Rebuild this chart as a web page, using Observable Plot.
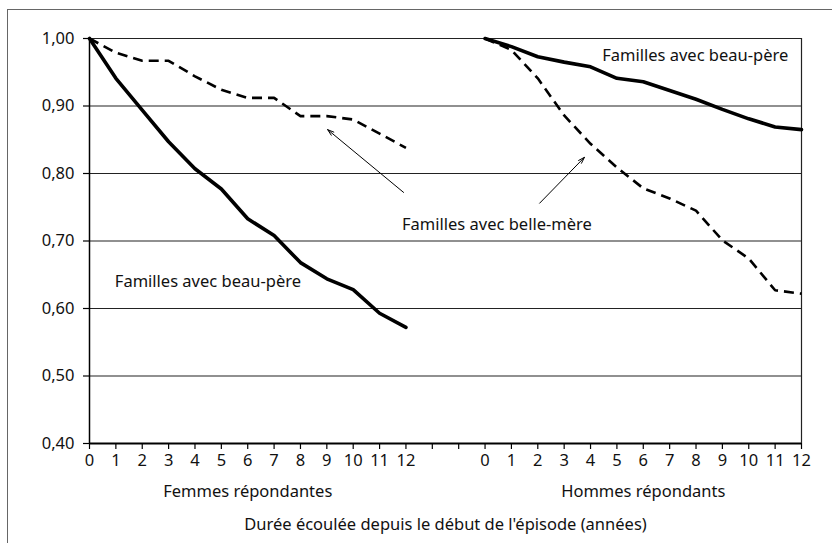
<!DOCTYPE html>
<html>
<head>
<meta charset="utf-8">
<script src="https://cdn.jsdelivr.net/npm/d3@7"></script>
<script src="https://cdn.jsdelivr.net/npm/@observablehq/plot@0.6"></script>
<style>
  html, body { margin: 0; padding: 0; background: #fff; overflow: hidden; }
  #wrap { position: relative; width: 832px; height: 543px; }
  #frame { position: absolute; left: 7px; top: 9px; width: 900px; height: 900px; border: 1.5px solid #666; box-sizing: border-box; pointer-events: none; }
  svg { font-family: "Noto Sans", sans-serif; font-variant-numeric: oldstyle-nums; }
</style>
</head>
<body>
<div id="wrap"><div id="frame"></div></div>
<script>
// Years since start of episode (per panel)
const years = [0,1,2,3,4,5,6,7,8,9,10,11,12];
// Panel offsets on the shared x axis (two empty slots between panels)
const panelOffset = {femmes: 0, hommes: 15};
const panelNames = {femmes: "Femmes répondantes", hommes: "Hommes répondants"};

// Survival proportions
const femmesBeauPere  = [1.000,0.941,0.894,0.847,0.807,0.777,0.733,0.708,0.668,0.644,0.628,0.593,0.572];
const femmesBelleMere = [1.000,0.979,0.967,0.967,0.944,0.924,0.912,0.912,0.885,0.885,0.880,0.859,0.838];
const hommesBeauPere  = [1.000,0.988,0.973,0.965,0.958,0.941,0.936,0.923,0.910,0.895,0.881,0.869,0.865];
const hommesBelleMere = [1.000,0.983,0.941,0.886,0.844,0.809,0.778,0.763,0.745,0.701,0.674,0.627,0.622];

const yTicks = [0.4,0.5,0.6,0.7,0.8,0.9,1.0];
const xTickLabels = [...years.map(String), "", "", ...years.map(String)];

function rows(panel, family, values) {
  return years.map((yr, i) => ({panel, family, pos: panelOffset[panel] + yr, value: values[i]}));
}
const series = [
  {key: "fBP", data: rows("femmes", "Familles avec beau-père", femmesBeauPere), dashed: false},
  {key: "fBM", data: rows("femmes", "Familles avec belle-mère", femmesBelleMere), dashed: true},
  {key: "hBP", data: rows("hommes", "Familles avec beau-père", hommesBeauPere), dashed: false},
  {key: "hBM", data: rows("hommes", "Familles avec belle-mère", hommesBelleMere), dashed: true}
];

// Annotations (in data coordinates)
const labelsMiddle = [
  {text: "Familles avec beau-père", pos: 4.49, value: 0.639},
  {text: "Familles avec belle-mère", pos: 15.45, value: 0.724}
];
const labelsEnd = [
  {text: "Familles avec beau-père", pos: 26.5, value: 0.974}
];
const arrows = [
  {x1: 11.91, y1: 0.772, x2: 9.03, y2: 0.865},
  {x1: 17.07, y1: 0.756, x2: 18.77, y2: 0.824}
];
const panelLabels = [
  {text: panelNames.femmes, pos: panelOffset.femmes + 6},
  {text: panelNames.hommes, pos: panelOffset.hommes + 6}
];
const axisTitle = "Durée écoulée depuis le début de l'épisode (années)";

const fmt = d => d.toFixed(2).replace(".", ",");
const FS = 16.5;

const plot = Plot.plot({
  width: 832,
  height: 543,
  marginLeft: 89,
  marginRight: 31,
  marginTop: 38,
  marginBottom: 100,
  style: {fontSize: FS + "px", fontFamily: "'Noto Sans', sans-serif", color: "#111", background: "transparent", overflow: "visible"},
  x: {domain: [0, 27]},
  y: {domain: [0.4, 1.0]},
  marks: [
    Plot.ruleY(yTicks.slice(1), {stroke: "#222", strokeWidth: 1.2}),
    Plot.ruleX([0], {y1: 0.4, y2: 1.0, stroke: "#000", strokeWidth: 1.5}),
    Plot.ruleX([27], {y1: 0.4, y2: 1.0, stroke: "#222", strokeWidth: 1.2}),
    Plot.ruleY([0.4], {stroke: "#000", strokeWidth: 1.8}),
    Plot.axisY({ticks: yTicks, tickFormat: fmt, tickSize: 6, tickPadding: 9, fontSize: FS, stroke: "#000", strokeWidth: 1.2}),
    Plot.axisX({ticks: d3.range(28), tickFormat: i => xTickLabels[i], tickSize: 6, tickPadding: 5, fontSize: FS, stroke: "#000", strokeWidth: 1.2, label: null}),
    ...series.map(s => Plot.line(s.data, {
      x: "pos", y: "value", stroke: "#000",
      strokeWidth: s.dashed ? 2.6 : 3.6,
      strokeDasharray: s.dashed ? "10,6" : null,
      strokeLinejoin: "round", strokeLinecap: s.dashed ? "butt" : "round"
    })),
    Plot.arrow(arrows, {x1: "x1", y1: "y1", x2: "x2", y2: "y2", stroke: "#000", strokeWidth: 1, headLength: 10, headAngle: 35, insetStart: 0, insetEnd: 0}),
    Plot.text(labelsMiddle, {x: "pos", y: "value", text: "text", textAnchor: "middle", fontSize: FS, fill: "#111"}),
    Plot.text(labelsEnd, {x: "pos", y: "value", text: "text", textAnchor: "end", fontSize: FS, fill: "#111"}),
    Plot.text(panelLabels, {x: "pos", y: () => 0.4, text: "text", dy: 48, fontSize: FS, fill: "#111"}),
    Plot.text([axisTitle], {x: () => 13.5, y: () => 0.4, text: d => d, dy: 81, fontSize: FS, fill: "#111"})
  ]
});
plot.style.position = "absolute";
plot.style.left = "0px";
plot.style.top = "0px";
document.getElementById("wrap").appendChild(plot);
</script>
</body>
</html>
